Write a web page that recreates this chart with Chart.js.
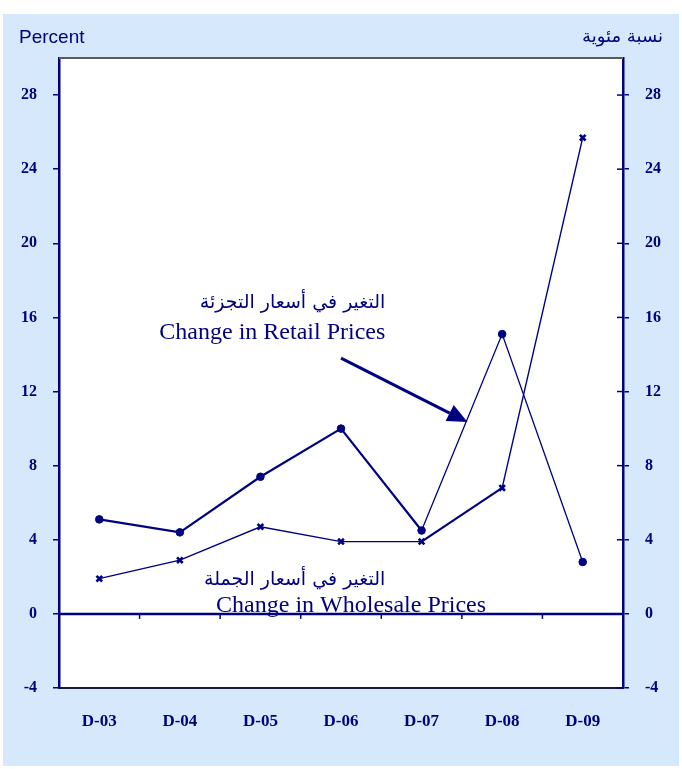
<!DOCTYPE html>
<html>
<head>
<meta charset="utf-8">
<script src="https://cdn.jsdelivr.net/npm/chart.js@4/dist/chart.umd.min.js"></script>
<style>
  html, body { margin: 0; padding: 0; background: #ffffff; }
  #wrap { width: 682px; height: 769px; position: relative; }
</style>
</head>
<body>
<div id="wrap"><canvas id="c" width="682" height="769"></canvas></div>
<script>
// ---- Data ----
const categories = ['D-03', 'D-04', 'D-05', 'D-06', 'D-07', 'D-08', 'D-09'];
const retailChange = [5.1, 4.4, 7.4, 10.0, 4.5, 15.1, 2.8];
const wholesaleChange = [1.9, 2.9, 4.7, 3.9, 3.9, 6.8, 25.7];
const yTicks = [-4, 0, 4, 8, 12, 16, 20, 24, 28];
const retailLabel = ['التغير في أسعار التجزئة', 'Change in Retail Prices'];
const wholesaleLabel = ['التغير في أسعار الجملة', 'Change in Wholesale Prices'];
const leftUnit = 'Percent';
const rightUnit = 'نسبة مئوية';

const NAVY = '#000080';
const BG = 'rgb(213,232,252)';
const SERIF = '"Liberation Serif", "Times New Roman", "DejaVu Serif", serif';
const SANS = '"Liberation Sans", Arial, "DejaVu Sans", sans-serif';

const decoPlugin = {
  id: 'deco',
  beforeDraw(chart) {
    const ctx = chart.ctx;
    ctx.save();
    ctx.fillStyle = BG;
    ctx.fillRect(3, 14, 676, 752);
    const a = chart.chartArea;
    ctx.fillStyle = '#ffffff';
    ctx.fillRect(a.left, a.top, a.right - a.left, a.bottom - a.top);
    // unit labels
    ctx.fillStyle = NAVY;
    ctx.font = '19px ' + SANS;
    ctx.textAlign = 'left';
    ctx.textBaseline = 'alphabetic';
    ctx.fillText(leftUnit, 19, 43);
    ctx.font = '18px "DejaVu Sans", sans-serif';
    ctx.textAlign = 'right';
    ctx.fillText(rightUnit, 663, 42);
    ctx.restore();
  },
  beforeDatasetsDraw(chart) {
    const ctx = chart.ctx;
    const a = chart.chartArea;
    const xs = chart.scales.x, ys = chart.scales.y;
    const y0 = ys.getPixelForValue(0);
    ctx.save();
    // zero line
    ctx.strokeStyle = NAVY;
    ctx.lineWidth = 2.5;
    ctx.beginPath();
    ctx.moveTo(a.left, y0);
    ctx.lineTo(a.right, y0);
    ctx.stroke();
    // category boundary ticks on zero line
    ctx.lineWidth = 1.5;
    for (let k = 1; k < categories.length; k++) {
      const xp = (xs.getPixelForValue(k - 1) + xs.getPixelForValue(k)) / 2;
      ctx.beginPath();
      ctx.moveTo(xp, y0);
      ctx.lineTo(xp, y0 + 5);
      ctx.stroke();
    }
    // right axis inner tick halves
    for (const t of yTicks) {
      const yp = ys.getPixelForValue(t);
      ctx.beginPath();
      ctx.moveTo(a.right - 6, yp);
      ctx.lineTo(a.right, yp);
      ctx.stroke();
    }
    // top border
    ctx.strokeStyle = '#5a5a5a';
    ctx.lineWidth = 2;
    ctx.beginPath();
    ctx.moveTo(a.left, a.top);
    ctx.lineTo(a.right, a.top);
    ctx.stroke();
    ctx.restore();
  },
  afterDatasetsDraw(chart) {
    const ctx = chart.ctx;
    const xs = chart.scales.x, ys = chart.scales.y;
    const X = v => xs.getPixelForValue(v);
    const Y = v => ys.getPixelForValue(v);
    ctx.save();
    ctx.fillStyle = NAVY;
    ctx.textAlign = 'right';
    // retail label
    ctx.textBaseline = 'middle';
    ctx.font = '19px "DejaVu Serif", "DejaVu Sans", serif';
    ctx.fillText(retailLabel[0], X(3.55), Y(16.8));
    ctx.textBaseline = 'alphabetic';
    ctx.font = '24px ' + SERIF;
    ctx.fillText(retailLabel[1], X(3.55), Y(14.85));
    // wholesale label
    ctx.textBaseline = 'middle';
    ctx.font = '19px "DejaVu Serif", "DejaVu Sans", serif';
    ctx.fillText(wholesaleLabel[0], X(3.55), Y(1.85));
    ctx.textBaseline = 'alphabetic';
    ctx.font = '24px ' + SERIF;
    ctx.fillText(wholesaleLabel[1], X(4.8), Y(0.1));
    // arrow
    const x1 = X(3.0), y1 = Y(13.8), x2 = X(4.57), y2 = Y(10.35);
    const ang = Math.atan2(y2 - y1, x2 - x1);
    const hl = 20, hw = 9;
    const bx = x2 - hl * Math.cos(ang), by = y2 - hl * Math.sin(ang);
    ctx.strokeStyle = NAVY;
    ctx.lineWidth = 3;
    ctx.beginPath();
    ctx.moveTo(x1, y1);
    ctx.lineTo(bx, by);
    ctx.stroke();
    ctx.beginPath();
    ctx.moveTo(x2, y2);
    ctx.lineTo(bx + hw * Math.sin(ang), by - hw * Math.cos(ang));
    ctx.lineTo(bx - hw * Math.sin(ang), by + hw * Math.cos(ang));
    ctx.closePath();
    ctx.fill();
    ctx.restore();
  }
};

const tickFilter = s => { s.ticks = s.ticks.filter(t => yTicks.includes(t.value)); };

new Chart(document.getElementById('c'), {
  type: 'line',
  data: {
    labels: categories,
    datasets: [
      {
        label: retailLabel[1],
        data: retailChange,
        borderColor: NAVY,
        backgroundColor: NAVY,
        pointStyle: 'circle',
        pointRadius: 3.8,
        pointBorderWidth: 1,
        borderWidth: 2,
        segment: { borderWidth: c => c.p0DataIndex >= 4 ? 1.3 : 2.2 },
        tension: 0,
        yAxisID: 'y'
      },
      {
        label: wholesaleLabel[1],
        data: wholesaleChange,
        borderColor: NAVY,
        backgroundColor: NAVY,
        pointStyle: 'crossRot',
        pointRadius: 4,
        pointBorderWidth: 2.6,
        borderWidth: 1.4,
        segment: { borderWidth: c => c.p0DataIndex === 4 ? 2.2 : 1.4 },
        tension: 0,
        yAxisID: 'y'
      }
    ]
  },
  options: {
    responsive: false,
    devicePixelRatio: 1,
    animation: false,
    layout: { padding: { top: 58, left: 0, right: 0, bottom: 0 } },
    plugins: { legend: { display: false }, tooltip: { enabled: false } },
    scales: {
      x: {
        type: 'category',
        offset: true,
        grid: { display: false, drawTicks: false },
        border: { display: true, color: '#1a1a3a', width: 2 },
        ticks: {
          color: NAVY,
          font: { family: SERIF, size: 17, weight: 'bold' },
          padding: 23,
          maxRotation: 0,
          autoSkip: false
        },
        afterFit: s => { s.height = 81; }
      },
      y: {
        position: 'left',
        min: -4, max: 30,
        ticks: {
          stepSize: 4,
          color: NAVY,
          font: { family: SERIF, size: 16, weight: 'bold' },
          padding: 16
        },
        afterBuildTicks: tickFilter,
        grid: { drawOnChartArea: false, drawTicks: true, tickLength: 6, color: NAVY, lineWidth: 1.5 },
        border: { display: true, color: NAVY, width: 2.5 },
        afterFit: s => { s.width = 59; }
      },
      y2: {
        position: 'right',
        min: -4, max: 30,
        ticks: {
          stepSize: 4,
          color: NAVY,
          font: { family: SERIF, size: 16, weight: 'bold' },
          padding: 16
        },
        afterBuildTicks: tickFilter,
        grid: { drawOnChartArea: false, drawTicks: true, tickLength: 6, color: NAVY, lineWidth: 1.5 },
        border: { display: true, color: NAVY, width: 2.5 },
        afterFit: s => { s.width = 59; }
      }
    }
  },
  plugins: [decoPlugin]
});
</script>
</body>
</html>
